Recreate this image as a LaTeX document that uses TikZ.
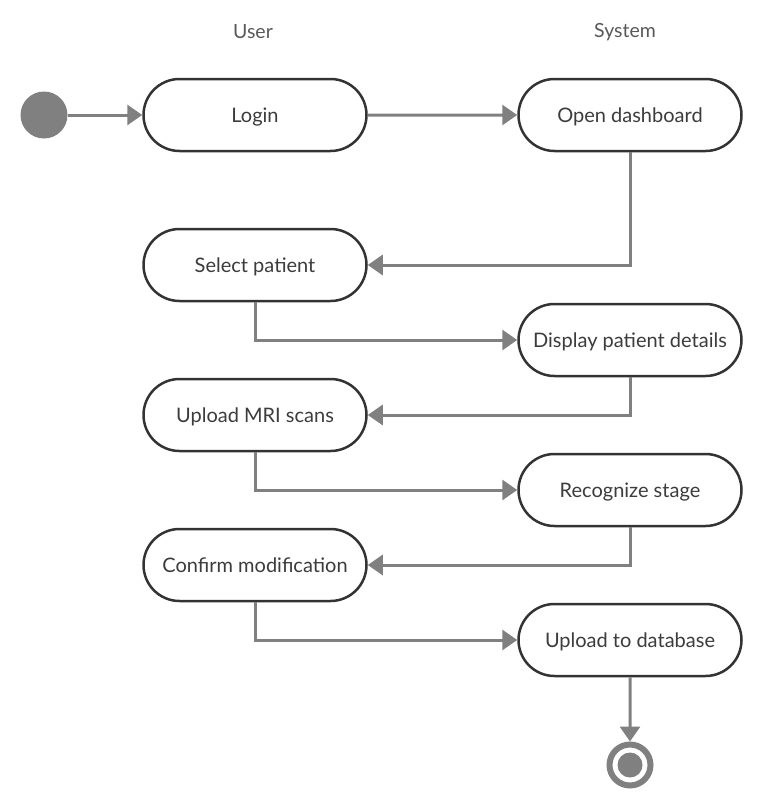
\documentclass[tikz,border=0pt]{standalone}
\usepackage{fontspec}
\setmainfont{Lato}
\usetikzlibrary{shapes.misc,arrows.meta,calc}
\definecolor{mygray}{RGB}{128,128,128}
\definecolor{mydark}{RGB}{51,51,51}
\definecolor{mytext}{RGB}{60,60,60}

\begin{document}
\begin{tikzpicture}[x=1pt,y=-1pt]

\tikzstyle{activity} = [draw=mydark, line width=2.5, rounded rectangle,
    minimum width=223, minimum height=72, inner sep=0, fill=white,
    text=mytext, font=\fontsize{20}{24}\selectfont,
    text height=16, text depth=2]
\tikzstyle{flow} = [draw=mygray, line width=3,
    -{Triangle[length=15,width=20]}]
\tikzstyle{lane} = [text=mytext!85, font=\fontsize{19.5}{24}\selectfont]

\useasboundingbox (0,0) rectangle (766,800);

% =========================
% swimlane titles
% =========================
\node[lane] (user) at (253,32) {User};
\node[lane] (system) at (625,32) {System};

% =========================
% start and end
% =========================
\node[circle, fill=mygray, minimum size=47, inner sep=0] (start) at (44,115) {};
\node[circle, draw=mygray, line width=6, minimum size=41, inner sep=0] (finish) at (630,765) {};
\fill[mygray] (finish.center) circle (12.5);

% =========================
% activities
% =========================
\node[activity] (login) at (255,115) {Login};
\node[activity] (dash) at (630,115) {Open dashboard};
\node[activity] (select) at (255,265) {Select patient};
\node[activity] (details) at (630,340) {Display patient details};
\node[activity] (upload) at (255,415) {Upload MRI scans};
\node[activity] (stage) at (630,490) {Recognize stage};
\node[activity] (confirm) at (255,565) {Confirm modification};
\node[activity] (database) at (630,640) {Upload to database};

% =========================
% control flow
% =========================
\draw[flow] (start) -- (login);
\draw[flow] (login) -- (dash);
\draw[flow] (dash.south) |- (select.east);
\draw[flow] (select.south) |- (details.west);
\draw[flow] (details.south) |- (upload.east);
\draw[flow] (upload.south) |- (stage.west);
\draw[flow] (stage.south) |- (confirm.east);
\draw[flow] (confirm.south) |- (database.west);
\draw[flow] (database) -- (finish);

\end{tikzpicture}
\end{document}
